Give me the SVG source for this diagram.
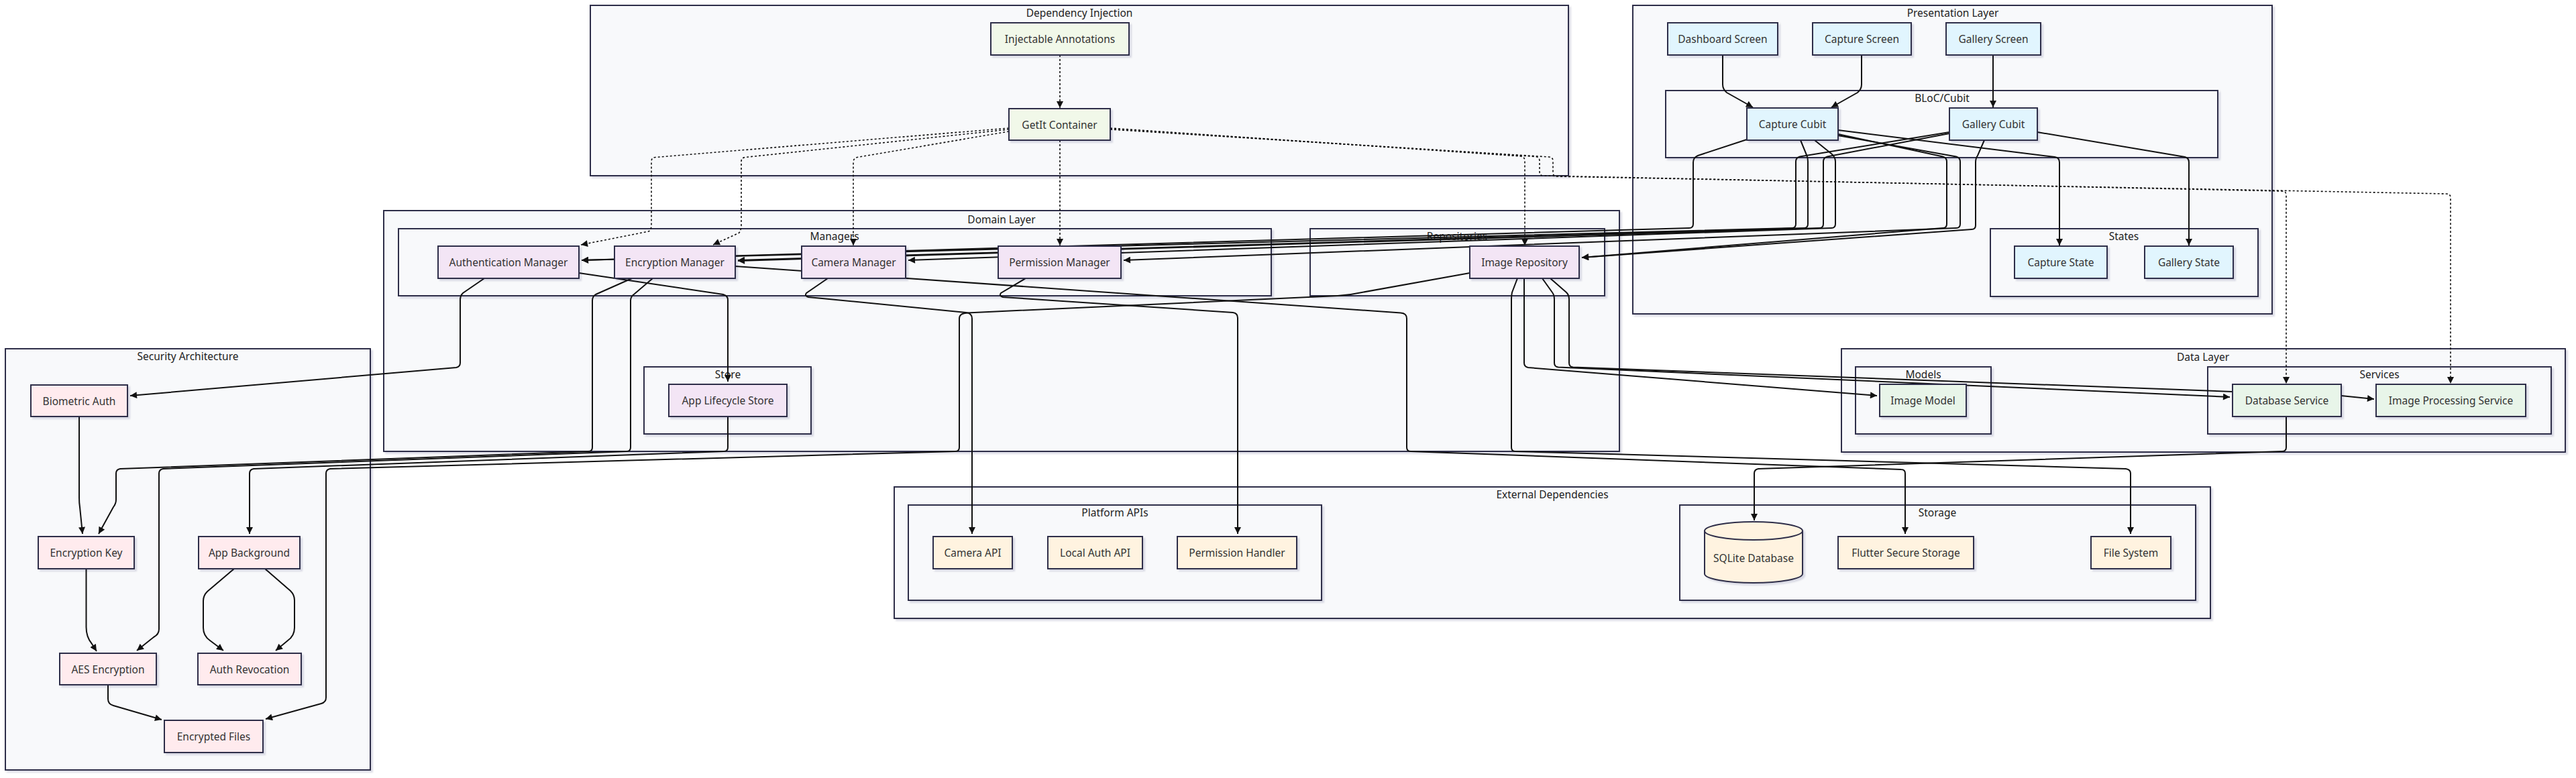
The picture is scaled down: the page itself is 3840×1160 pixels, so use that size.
<svg xmlns="http://www.w3.org/2000/svg" width="3840" height="1160" viewBox="0 0 3840 1160">
<defs>
<filter id="sh" x="-5%" y="-5%" width="115%" height="130%"><feDropShadow dx="3" dy="3" stdDeviation="1.2" flood-color="#1a1a40" flood-opacity="0.13"/></filter>
<marker id="ah" viewBox="0 0 10 10" refX="10" refY="5" markerUnits="userSpaceOnUse" markerWidth="11" markerHeight="10" orient="auto"><path d="M0,0 L10,5 L0,10 z" fill="#111"/></marker>
</defs>
<style>
.cl{fill:#f8f9fb;stroke:#2e2e48;stroke-width:2;filter:url(#sh)}
.ct{font-family:"Noto Sans","DejaVu Sans",sans-serif;font-size:15.5px;fill:#222;text-anchor:middle;dominant-baseline:central}
.n rect,.n path{stroke:#2e2e48;stroke-width:2;filter:url(#sh)}
.n text{font-family:"Noto Sans","DejaVu Sans",sans-serif;font-size:15.5px;fill:#333;text-anchor:middle;dominant-baseline:central}
.di rect{fill:#f1f8e9}.pr rect{fill:#e1f5fe}.dm rect{fill:#f3e5f5}.se rect{fill:#ffebee}.da rect{fill:#e8f5e9}.ex rect,.ex path{fill:#fff3e0}
.e{fill:none;stroke:#111;stroke-width:2;marker-end:url(#ah)}
.d{fill:none;stroke:#111;stroke-width:1.6;stroke-dasharray:3 3;marker-end:url(#ah)}
.e2{fill:none;stroke:#111;stroke-width:2}
</style>
<rect width="3840" height="1160" fill="#ffffff"/>
<g id="clusters">
<rect class="cl" x="880" y="8" width="1458" height="254"/><text class="ct" x="1609" y="19">Dependency Injection</text>
<rect class="cl" x="2434" y="8" width="953" height="460"/><text class="ct" x="2911" y="19">Presentation Layer</text>
<rect class="cl" x="2483" y="135" width="823" height="100"/><text class="ct" x="2895" y="146">BLoC/Cubit</text>
<rect class="cl" x="2967" y="341" width="399" height="101"/><text class="ct" x="3166" y="352">States</text>
<rect class="cl" x="572" y="314" width="1842" height="359"/><text class="ct" x="1493" y="327">Domain Layer</text>
<rect class="cl" x="594" y="341" width="1301" height="100"/><text class="ct" x="1244" y="352">Managers</text>
<rect class="cl" x="1953" y="341" width="439" height="100"/><text class="ct" x="2172" y="352">Repositories</text>
<rect class="cl" x="960" y="547" width="249" height="100"/><text class="ct" x="1085" y="558">Store</text>
<rect class="cl" x="8" y="520" width="544" height="628"/><text class="ct" x="280" y="531">Security Architecture</text>
<rect class="cl" x="2745" y="520" width="1079" height="154"/><text class="ct" x="3284" y="532">Data Layer</text>
<rect class="cl" x="2766" y="547" width="202" height="100"/><text class="ct" x="2867" y="558">Models</text>
<rect class="cl" x="3291" y="547" width="512" height="100"/><text class="ct" x="3547" y="558">Services</text>
<rect class="cl" x="1333" y="726" width="1962" height="196"/><text class="ct" x="2314" y="737">External Dependencies</text>
<rect class="cl" x="1354" y="753" width="616" height="142"/><text class="ct" x="1662" y="764">Platform APIs</text>
<rect class="cl" x="2504" y="753" width="769" height="142"/><text class="ct" x="2888" y="764">Storage</text>
</g>
<g id="connectors">
<path class="d" d="M1580,82 L1580,161"/>
<path class="d" d="M1504,191 L977,234.5 Q971,235 971,241 L971,336 Q971,342 967,345 L866,365"/>
<path class="d" d="M1504,193 L1111,234.5 Q1105,235 1105,241 L1105,336 Q1105,342 1102,347 L1063,365"/>
<path class="d" d="M1504,196 L1278,234.5 Q1272,236 1272,242 L1272,366"/>
<path class="d" d="M1580,209 L1580,366"/>
<path class="d" d="M1655,191 L2267,233 Q2273,234 2273,240 L2273,366"/>
<path class="d" d="M1655,192 L2289,233.5 Q2295,234 2295,240 L2295,256 Q2295,262 2301,262 L3402,285 Q3408,285 3408,291 L3408,572"/>
<path class="d" d="M1655,193 L2309,234 Q2315,234.5 2315,240 L2315,257 Q2315,263 2321,263 L3647,289 Q3653,289 3653,295 L3653,572"/>
<path class="e" d="M2568,82 L2568,126 Q2568,133 2574,138 L2613,160"/>
<path class="e" d="M2775,82 L2775,126 Q2775,133 2769,138 L2730,160"/>
<path class="e" d="M2971,82 L2971,160"/>
<path class="e" d="M2740,194 L3063,234 Q3070,235 3070,242 L3070,366"/>
<path class="e" d="M3037,197 L3257,234 Q3263,235.5 3263,242 L3263,366"/>
<path class="e" d="M2604,208 L2531,232 Q2524,235 2524,242 L2524,334 Q2524,340 2518,340 L867,388"/>
<path class="e" d="M2906,197 L2683,233.5 Q2677,235 2677,241 L2677,334 Q2677,340 2671,340 L867,388"/>
<path class="e" d="M2684,209 L2693,231 Q2695,235 2695,241 L2695,334 Q2695,340 2689,340 L1100,388"/>
<path class="e" d="M2906,199 L2724,233.5 Q2718,235 2718,241 L2718,334 Q2718,340 2712,340 L1100,389"/>
<path class="e" d="M2705,209 L2731,230 Q2736,235 2736,241 L2736,334 Q2736,340 2730,340 L1354,388"/>
<path class="e" d="M2740,200 L2896,233.5 Q2902,235 2902,241 L2902,334 Q2902,340 2896,340 L2358,384"/>
<path class="e" d="M2740,202 L2916,233.5 Q2922,235 2922,241 L2922,334 Q2922,340 2916,340 L1675,388"/>
<path class="e" d="M2958,209 L2948,232 Q2945,236 2945,242 L2945,336 Q2945,342 2939,342 L2358,384"/>
<path class="e" d="M722,415 L690,437 Q686,441 686,447 L686,541 Q686,547 680,548 L194,590"/>
<path class="e" d="M863,407 L1078,439 Q1085,441 1085,447 L1085,569"/>
<path class="e" d="M942,415 L888,439 Q883,442 883,448 L883,667 Q883,673 877,673 L179,699 Q173,700 173,706 L173,745 Q173,751 169,756 L147,796"/>
<path class="e" d="M973,415 L946,438 Q940,442 940,448 L940,667 Q940,673 934,673 L243,699 Q237,700 237,706 L237,938 Q237,946 229,950 L204,970"/>
<path class="e" d="M1085,621 L1085,667 Q1085,673 1079,673 L378,699 Q372,700 372,706 L372,796"/>
<path class="e" d="M2191,407 L2030,436 Q2012,440 1994,441 L1442,466.5 Q1430,467 1430,475 L1430,667 Q1430,673 1424,673 L492,699 Q486,700 486,706 L486,1040 Q486,1047 479,1049 L396,1072"/>
<path class="e" d="M1234,415 L1202,437 Q1199,441 1205,443 L1440,466 Q1449,467 1449,475 L1449,796"/>
<path class="e" d="M1529,415 L1492,437 Q1489,441 1495,443 L1838,466 Q1845,467 1845,474 L1845,796"/>
<path class="e" d="M1096,397 L2088,466.5 Q2097,467 2097,475 L2097,667 Q2097,673 2103,673 L2834,700 Q2840,700 2840,706 L2840,796"/>
<path class="e" d="M2262,415 L2254,436 Q2253,440 2253,446 L2253,667 Q2253,673 2259,673 L3169,699 Q3176,700 3176,706 L3176,796"/>
<path class="e" d="M2272,415 L2272,541 Q2272,547 2278,548 L2798,590"/>
<path class="e" d="M2299,415 L2314,436 Q2317,440 2317,446 L2317,541 Q2317,547 2323,547.5 L3324,592"/>
<path class="e" d="M2311,415 L2335,436 Q2339,440 2339,446 L2339,541 Q2339,547 2345,547.5 L3328,584 L3490,590 L3539,595"/>
<path class="e" d="M3408,621 L3408,667 Q3408,673 3402,673 L2621,699 Q2615,700 2615,706 L2615,776"/>
<path class="e" d="M118,621 L118,742 Q118,750 119,756 L123,796"/>
<path class="e" d="M128.5,848 L128.5,935 Q128.5,950 137,960 L144,971"/>
<path class="e" d="M349,848 L309,882 Q303,888 303,896 L303,936 Q303,948 313,955 L333,970"/>
<path class="e" d="M395,848 L433,881 Q439,887 439,895 L439,936 Q439,948 429,955 L411,970"/>
<path class="e" d="M161,1021 L161,1042 Q161,1050 169,1052 L241,1073"/>
</g>
<g id="n-injectable" class="n di"><rect x="1477" y="34" width="206" height="48"/><text x="1580" y="58">Injectable Annotations</text></g>
<g id="n-getit" class="n di"><rect x="1504" y="162" width="151" height="47"/><text x="1579.5" y="185.5">GetIt Container</text></g>
<g id="n-dashboard" class="n pr"><rect x="2486" y="34" width="164" height="48"/><text x="2568" y="58">Dashboard Screen</text></g>
<g id="n-capturescreen" class="n pr"><rect x="2702" y="34" width="147" height="48"/><text x="2775.5" y="58">Capture Screen</text></g>
<g id="n-galleryscreen" class="n pr"><rect x="2901" y="34" width="141" height="48"/><text x="2971.5" y="58">Gallery Screen</text></g>
<g id="n-capturecubit" class="n pr"><rect x="2604" y="161" width="136" height="48"/><text x="2672" y="185">Capture Cubit</text></g>
<g id="n-gallerycubit" class="n pr"><rect x="2906" y="161" width="131" height="48"/><text x="2971.5" y="185">Gallery Cubit</text></g>
<g id="n-capturestate" class="n pr"><rect x="3003" y="367" width="138" height="48"/><text x="3072" y="391">Capture State</text></g>
<g id="n-gallerystate" class="n pr"><rect x="3197" y="367" width="132" height="48"/><text x="3263" y="391">Gallery State</text></g>
<g id="n-authmgr" class="n dm"><rect x="653" y="367" width="210" height="48"/><text x="758" y="391">Authentication Manager</text></g>
<g id="n-encmgr" class="n dm"><rect x="916" y="367" width="180" height="48"/><text x="1006" y="391">Encryption Manager</text></g>
<g id="n-cammgr" class="n dm"><rect x="1195" y="367" width="155" height="48"/><text x="1272.5" y="391">Camera Manager</text></g>
<g id="n-permmgr" class="n dm"><rect x="1488" y="367" width="183" height="48"/><text x="1579.5" y="391">Permission Manager</text></g>
<g id="n-imagerepo" class="n dm"><rect x="2191" y="367" width="163" height="48"/><text x="2272.5" y="391">Image Repository</text></g>
<g id="n-lifecycle" class="n dm"><rect x="997" y="573" width="176" height="48"/><text x="1085" y="597">App Lifecycle Store</text></g>
<g id="n-biometric" class="n se"><rect x="46" y="574" width="144" height="47"/><text x="118" y="597.5">Biometric Auth</text></g>
<g id="n-enckey" class="n se"><rect x="57" y="800" width="143" height="48"/><text x="128.5" y="824">Encryption Key</text></g>
<g id="n-appbg" class="n se"><rect x="296" y="800" width="151" height="48"/><text x="371.5" y="824">App Background</text></g>
<g id="n-aes" class="n se"><rect x="89" y="974" width="144" height="47"/><text x="161" y="997.5">AES Encryption</text></g>
<g id="n-authrev" class="n se"><rect x="295" y="974" width="154" height="47"/><text x="372" y="997.5">Auth Revocation</text></g>
<g id="n-encfiles" class="n se"><rect x="245" y="1074" width="147" height="48"/><text x="318.5" y="1098">Encrypted Files</text></g>
<g id="n-imagemodel" class="n da"><rect x="2802" y="573" width="129" height="48"/><text x="2866.5" y="597">Image Model</text></g>
<g id="n-dbservice" class="n da"><rect x="3328" y="573" width="162" height="48"/><text x="3409" y="597">Database Service</text></g>
<g id="n-imgproc" class="n da"><rect x="3542" y="573" width="223" height="48"/><text x="3653.5" y="597">Image Processing Service</text></g>
<g id="n-cameraapi" class="n ex"><rect x="1391" y="800" width="118" height="48"/><text x="1450" y="824">Camera API</text></g>
<g id="n-localauth" class="n ex"><rect x="1562" y="800" width="141" height="48"/><text x="1632.5" y="824">Local Auth API</text></g>
<g id="n-permhandler" class="n ex"><rect x="1755" y="800" width="178" height="48"/><text x="1844" y="824">Permission Handler</text></g>
<g id="n-sqlite" class="n ex"><path d="M2541,791.5 a73,13.5 0 0 0 146,0 a73,13.5 0 0 0 -146,0 l0,64 a73,13.5 0 0 0 146,0 l0,-64"/><text x="2614" y="832">SQLite Database</text></g>
<g id="n-securestorage" class="n ex"><rect x="2740" y="800" width="202" height="48"/><text x="2841" y="824">Flutter Secure Storage</text></g>
<g id="n-filesystem" class="n ex"><rect x="3117" y="800" width="119" height="48"/><text x="3176.5" y="824">File System</text></g>
</svg>
